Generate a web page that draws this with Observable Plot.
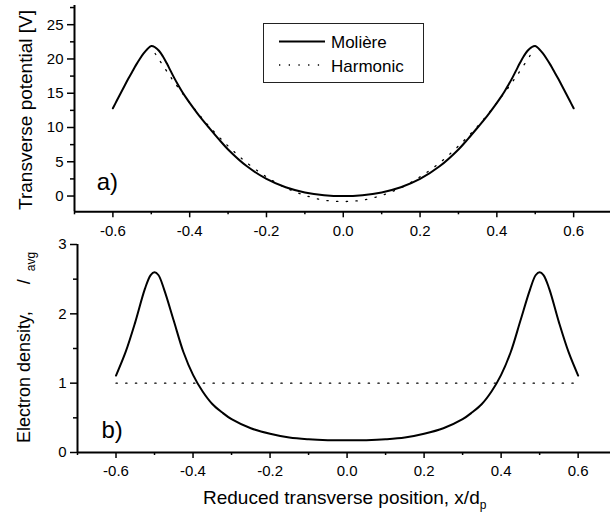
<!DOCTYPE html>
<html><head><meta charset="utf-8">
<script src="https://cdn.jsdelivr.net/npm/d3@7"></script>
<script src="https://cdn.jsdelivr.net/npm/@observablehq/plot@0.6"></script>
<style>
body{margin:0;background:#fff;}
#wrap{position:relative;width:610px;height:512px;overflow:hidden;font-family:"Liberation Sans",Arial,sans-serif;background:#fff;}
#wrap svg{position:absolute;left:0;overflow:visible;}
</style></head><body><div id="wrap"></div>
<script>
// ---- data ----
const potX = [-0.6,-0.59,-0.575,-0.56,-0.55,-0.54,-0.53,-0.52,-0.51,-0.5,-0.49,-0.48,-0.47,-0.46,-0.45,-0.44,-0.43,-0.42,-0.41,-0.4,-0.375,-0.35,-0.325,-0.3,-0.25,-0.2,-0.15,-0.1,-0.05,0,
              0.05,0.1,0.15,0.2,0.25,0.3,0.325,0.35,0.375,0.4,0.41,0.42,0.43,0.44,0.45,0.46,0.47,0.48,0.49,0.5,0.51,0.52,0.53,0.54,0.55,0.56,0.575,0.59,0.6];
const moliereV = [12.8,13.9,15.5,17.1,18.1,19.1,20.0,20.8,21.45,21.9,21.7,21.2,20.4,19.4,18.3,17.2,16.2,15.25,14.4,13.6,11.7,10.0,8.35,6.8,4.3,2.5,1.28,0.53,0.13,0,
              0.13,0.53,1.28,2.5,4.3,6.8,8.35,10.0,11.7,13.6,14.4,15.25,16.2,17.2,18.3,19.4,20.4,21.2,21.7,21.9,21.45,20.8,20.0,19.1,18.1,17.1,15.5,13.9,12.8];
const harmX = [-0.49,-0.45,-0.4,-0.35,-0.3,-0.25,-0.2,-0.15,-0.1,-0.05,0,0.05,0.1,0.15,0.2,0.25,0.3,0.35,0.4,0.45,0.49];
const harmV = [20.8,17.4,13.6,10.2,7.3,4.8,2.8,1.2,0.1,-0.6,-0.8,-0.6,0.1,1.2,2.8,4.8,7.3,10.2,13.6,17.4,20.8];

const densX = [-0.6,-0.575,-0.55,-0.525,-0.51,-0.5,-0.49,-0.475,-0.45,-0.425,-0.4,-0.375,-0.35,-0.325,-0.3,-0.25,-0.2,-0.15,-0.1,-0.05,0,
               0.05,0.1,0.15,0.2,0.25,0.3,0.325,0.35,0.375,0.4,0.425,0.45,0.475,0.49,0.5,0.51,0.525,0.55,0.575,0.6];
const moliereRho = [1.11,1.45,1.88,2.36,2.56,2.60,2.56,2.35,1.90,1.45,1.12,0.88,0.70,0.58,0.48,0.35,0.27,0.215,0.19,0.178,0.175,
               0.178,0.19,0.215,0.27,0.35,0.48,0.58,0.70,0.88,1.12,1.45,1.90,2.35,2.56,2.60,2.56,2.36,1.88,1.45,1.11];
const harmDensX = [-0.6, 0.6];
const harmRho = [1, 1];

const xMajor = [-0.6,-0.4,-0.2,0,0.2,0.4,0.6];
const xMinor = [-0.7,-0.5,-0.3,-0.1,0.1,0.3,0.5];
const yTopMajor = [0,5,10,15,20,25];
const yTopMinor = [2.5,7.5,12.5,17.5,22.5,27.5];
const yBotMajor = [0,1,2,3];
const yBotMinor = [0.5,1.5,2.5];
const legendLabels = ["Molière","Harmonic"];

const mol = potX.map((x,i)=>({x, y: moliereV[i]}));
const harm = harmX.map((x,i)=>({x, y: harmV[i]}));
const dens = densX.map((x,i)=>({x, y: moliereRho[i]}));
const hdens = harmDensX.map((x,i)=>({x, y: harmRho[i]}));

const FONT = "'Liberation Sans', Arial, sans-serif";
const fmt = d => d.toFixed(1);
const dots = "1.3,8.4";

const wrap = document.getElementById("wrap");

const topPlot = Plot.plot({
  width: 610, height: 240,
  marginLeft: 74, marginRight: 0, marginTop: 5, marginBottom: 28.7,
  x: {domain: [-0.7, 0.696]},
  y: {domain: [-2.3, 27.8]},
  style: {fontFamily: FONT, fontSize: "15px", color: "#000", background: "transparent", overflow: "visible"},
  marks: [
    Plot.axisY({ticks: yTopMajor, tickSize: 7, tickPadding: 4, label: null, fontSize: 15, strokeWidth: 1.5}),
    Plot.axisY({ticks: yTopMinor, tickSize: 4, tickFormat: () => "", label: null, strokeWidth: 1.5}),
    Plot.axisX({ticks: xMajor, tickSize: 6, tickPadding: 8, label: null, fontSize: 15, tickFormat: fmt, strokeWidth: 1.5}),
    Plot.axisX({ticks: xMinor, tickSize: 3, tickFormat: () => "", label: null, strokeWidth: 1.5}),
    Plot.ruleX([-0.7], {stroke: "#000", strokeWidth: 2}),
    Plot.ruleY([-2.3], {stroke: "#000", strokeWidth: 2}),
    Plot.line(harm, {x: "x", y: "y", stroke: "#000", strokeWidth: 1.3, strokeDasharray: dots, curve: "catmull-rom"}),
    Plot.line(mol, {x: "x", y: "y", stroke: "#000", strokeWidth: 2, curve: "catmull-rom"}),
    Plot.text(["a)"], {x: -0.642, y: 2, text: d => d, textAnchor: "start", fontSize: 24, fill: "#000"})
  ]
});
topPlot.style.top = "0px";
wrap.appendChild(topPlot);

const botPlot = Plot.plot({
  width: 610, height: 272,
  marginLeft: 77, marginRight: 0, marginTop: 4, marginBottom: 60,
  x: {domain: [-0.7, 0.684]},
  y: {domain: [0, 3]},
  style: {fontFamily: FONT, fontSize: "15px", color: "#000", background: "transparent", overflow: "visible"},
  marks: [
    Plot.axisY({ticks: yBotMajor, tickSize: 7, tickPadding: 4, label: null, fontSize: 15, tickFormat: d => String(d), strokeWidth: 1.5}),
    Plot.axisY({ticks: yBotMinor, tickSize: 4, tickFormat: () => "", label: null, strokeWidth: 1.5}),
    Plot.axisX({ticks: xMajor, tickSize: 6, tickPadding: 7, label: null, fontSize: 15, tickFormat: fmt, strokeWidth: 1.5}),
    Plot.axisX({ticks: xMinor, tickSize: 3, tickFormat: () => "", label: null, strokeWidth: 1.5}),
    Plot.ruleX([-0.7], {stroke: "#000", strokeWidth: 2}),
    Plot.ruleY([0], {stroke: "#000", strokeWidth: 2}),
    Plot.line(hdens, {x: "x", y: "y", stroke: "#000", strokeWidth: 1.3, strokeDasharray: dots}),
    Plot.line(dens, {x: "x", y: "y", stroke: "#000", strokeWidth: 2, curve: "catmull-rom"}),
    Plot.text(["b)"], {x: -0.638, y: 0.32, text: d => d, textAnchor: "start", fontSize: 24, fill: "#000"})
  ]
});
botPlot.style.top = "240px";
wrap.appendChild(botPlot);

// ---- overlay: axis titles and legend ----
const ov = d3.select(wrap).append("svg")
  .attr("width", 610).attr("height", 512)
  .style("top", "0px")
  .style("font-family", FONT);

ov.append("text")
  .attr("transform", "translate(32,110) rotate(-90)")
  .attr("text-anchor", "middle")
  .attr("font-size", 19)
  .text("Transverse potential [V]");

const yb = ov.append("text")
  .attr("transform", "translate(30,443) rotate(-90)")
  .attr("font-size", 18);
yb.append("tspan").text("Electron density,");
yb.append("tspan").attr("dx", 27).text("/");
yb.append("tspan").attr("dx", 8).attr("dy", 5).attr("font-size", 12).text("avg");

const xt = ov.append("text")
  .attr("x", 203).attr("y", 504)
  .attr("font-size", 19);
xt.append("tspan").text("Reduced transverse position, x/d");
xt.append("tspan").attr("dy", 5).attr("font-size", 12).text("p");

const lg = ov.append("g");
lg.append("rect").attr("x", 263.5).attr("y", 23.5).attr("width", 160).attr("height", 59)
  .attr("fill", "#fff").attr("stroke", "#222").attr("stroke-width", 1);
lg.append("line").attr("x1", 279).attr("x2", 325).attr("y1", 41.5).attr("y2", 41.5)
  .attr("stroke", "#000").attr("stroke-width", 2);
lg.append("line").attr("x1", 279).attr("x2", 325).attr("y1", 65).attr("y2", 65)
  .attr("stroke", "#000").attr("stroke-width", 1.3).attr("stroke-dasharray", dots);
lg.append("text").attr("x", 331).attr("y", 48).attr("font-size", 17).text(legendLabels[0]);
lg.append("text").attr("x", 331).attr("y", 71.5).attr("font-size", 17).text(legendLabels[1]);
</script></body></html>
